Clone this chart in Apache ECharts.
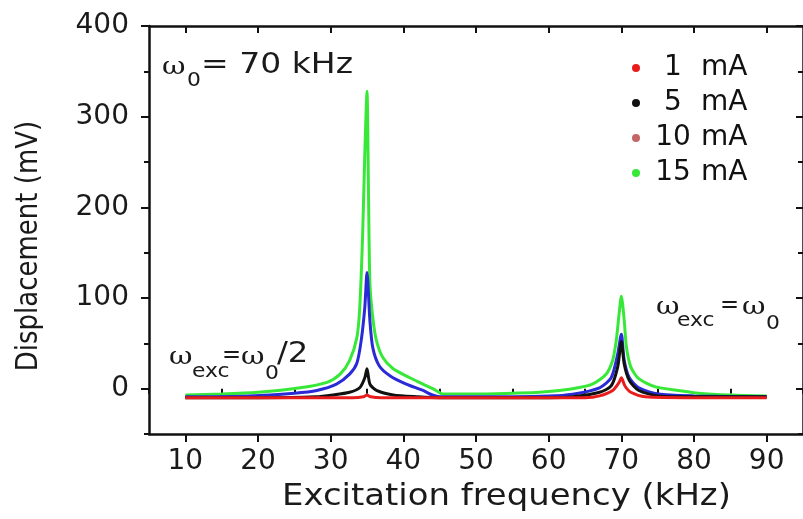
<!DOCTYPE html>
<html>
<head>
<meta charset="utf-8">
<script src="https://cdn.jsdelivr.net/npm/echarts@6/dist/echarts.min.js"></script>
<style>html,body{margin:0;padding:0;background:#fff;}#c{width:803px;height:519px;}</style>
</head>
<body>
<div id="c"></div>
<script>
// ---- data (frequency in kHz, displacement in mV) ----
const seriesNames = ['1 mA', '5 mA', '10 mA', '15 mA'];

const freq1mA = [10, 20, 30, 33, 34.5, 35, 35.5, 37, 40, 45, 50, 60, 65, 67, 68.8, 69.7, 70, 70.5, 71.3, 73.3, 80, 90];
const disp1mA = [-10, -10, -10, -10, -9, -7, -9, -10, -10, -10, -10, -10, -10, -8, -2, 7, 12, 3, -4, -9, -10, -10];

const freq5mA = [10, 20, 28, 30.3, 32.6, 34, 34.7, 35, 35.4, 36.3, 38.6, 42, 45, 50, 60, 63.3, 67, 68.6, 69.5, 70, 70.4, 71.1, 72.4, 75.1, 80, 90];
const disp5mA = [-10, -10, -9, -7, -4, 1, 12, 22, 5, -2, -7, -9, -10, -10, -10, -9, -4, 3, 24, 52, 27, 9, -2, -8, -9, -9];

const freq10mA = [10, 18.9, 25, 28.1, 30.8, 32.6, 33.6, 34.2, 34.7, 35, 35.4, 35.8, 36.7, 38.2, 40.4, 42.7, 44, 45, 50, 60, 63.3, 67, 68.6, 69.5, 70, 70.4, 71.1, 72.4, 75.1, 80, 90];
const disp10mA = [-9, -8, -5, -2, 5, 16, 28, 53, 90, 128, 75, 45, 25, 14, 5, -2, -7, -9, -9, -8, -6, 1, 12, 38, 60, 31, 12, 1, -6, -8, -9];

const freq15mA = [10, 15, 20, 25.8, 29.5, 31.3, 32.6, 33.6, 34, 34.4, 34.7, 35, 35.2, 35.4, 35.8, 36.3, 37.2, 38.6, 40.9, 42.7, 44.5, 45.4, 50, 55, 58.7, 63.3, 66, 67.9, 68.8, 69.3, 69.7, 70, 70.4, 70.7, 71.3, 72.4, 74.7, 77.9, 80.6, 85, 90];
const disp15mA = [-7, -6, -4, 1, 7, 16, 31, 56, 89, 170, 260, 328, 220, 116, 78, 53, 34, 22, 12, 5, -2, -6, -6, -5, -4, 0, 5, 16, 31, 53, 83, 102, 75, 46, 24, 11, 2, -2, -5, -7, -8];

const xMajorTicks = [10, 20, 30, 40, 50, 60, 70, 80, 90];
const xMinorTicks = [5, 15, 25, 35, 45, 55, 65, 75, 85, 95];
const yMajorTicks = [0, 100, 200, 300, 400];
const yMinorTicks = [-50, 50, 150, 250, 350];

// ---- styling ----
const colors = {'1 mA': '#e81c1c', '5 mA': '#111111', '10 mA': '#2a2ad6', '15 mA': '#38e838'};
const legendColors = {'1 mA': '#e81c1c', '5 mA': '#111111', '10 mA': '#c46666', '15 mA': '#38e838'};
const FONT = 'DejaVu Sans';
const AX = {color: '#111', width: 2.5};

function pairs(f, v) { return f.map((x, i) => [x, v[i]]); }
const dataMap = {
  '1 mA': pairs(freq1mA, disp1mA),
  '5 mA': pairs(freq5mA, disp5mA),
  '10 mA': pairs(freq10mA, disp10mA),
  '15 mA': pairs(freq15mA, disp15mA)
};

function tickAxis(extra) {
  return Object.assign({
    type: 'value', gridIndex: 0,
    splitLine: {show: false},
    axisLine: {show: false, lineStyle: AX},
    axisLabel: {show: false},
    axisTick: {show: true, lineStyle: {color: '#111', width: 2}}
  }, extra);
}

const chart = echarts.init(document.getElementById('c'), null, {renderer: 'canvas'});

// draw order: green, blue, black, red (red on top)
const drawOrder = ['15 mA', '10 mA', '5 mA', '1 mA'];

function txt(text, x, y, size, opts) {
  opts = opts || {};
  return {
    type: 'text', x: x, y: y, scaleX: opts.sx || 1.15, scaleY: opts.sy || 1,
    rotation: opts.rot || 0, z: 100,
    style: {
      text: text, fill: opts.fill || '#1a1a1a',
      font: (opts.weight || 'normal') + ' ' + size + 'px ' + (opts.family || FONT),
      align: opts.align || 'left', verticalAlign: 'middle'
    }
  };
}
const SERIF = '"DejaVu Serif"';

const option = {
  backgroundColor: '#fff',
  animation: false,
  grid: {left: 149, right: 0, top: 26, bottom: 85, containLabel: false},
  legend: {
    orient: 'vertical', left: 627, top: 49,
    icon: 'circle', itemWidth: 8, itemHeight: 8, itemGap: 7,
    data: seriesNames.map(n => ({name: n, itemStyle: {color: legendColors[n]}})),
    formatter: function (name) {
      const parts = name.split(' ');
      return '{n|' + parts[0] + '}{u|' + parts[1] + '}';
    },
    textStyle: {
      fontFamily: FONT, fontSize: 28, color: '#111', lineHeight: 28,
      rich: {
        n: {width: 56, align: 'center', fontFamily: FONT, fontSize: 28, color: '#111'},
        u: {fontFamily: FONT, fontSize: 28, color: '#111'}
      }
    }
  },
  xAxis: [
    tickAxis({
      min: 5, max: 95, position: 'bottom',
      axisLine: {show: true, onZero: false, lineStyle: AX},
      axisTick: {show: true, length: 8, customValues: xMajorTicks, lineStyle: {color: '#111', width: 2}},
      axisLabel: {show: true, customValues: xMajorTicks, margin: 14, fontFamily: FONT, fontSize: 28, color: '#1a1a1a'}
    }),
    tickAxis({min: 5, max: 95, position: 'bottom',
      axisTick: {show: true, length: 5, customValues: xMinorTicks, lineStyle: {color: '#111', width: 2}}}),
    tickAxis({min: 5, max: 95, position: 'top',
      axisLine: {show: true, onZero: false, lineStyle: AX},
      axisTick: {show: true, inside: true, length: 7, customValues: xMajorTicks, lineStyle: {color: '#111', width: 2}}}),
    tickAxis({min: 5, max: 95, position: 'top',
      axisTick: {show: true, inside: true, length: 5, customValues: xMinorTicks, lineStyle: {color: '#111', width: 2}}})
  ],
  yAxis: [
    tickAxis({
      min: -50, max: 400, position: 'left',
      axisLine: {show: true, onZero: false, lineStyle: AX},
      axisTick: {show: true, length: 8, customValues: yMajorTicks, lineStyle: {color: '#111', width: 2}},
      axisLabel: {show: true, customValues: yMajorTicks, margin: 20, fontFamily: FONT, fontSize: 28, color: '#1a1a1a'}
    }),
    tickAxis({min: -50, max: 400, position: 'left',
      axisTick: {show: true, length: 5, customValues: yMinorTicks, lineStyle: {color: '#111', width: 2}}}),
    tickAxis({min: -50, max: 400, position: 'right',
      axisLine: {show: true, onZero: false, lineStyle: AX},
      axisTick: {show: true, inside: true, length: 7, customValues: yMajorTicks, lineStyle: {color: '#111', width: 2}}}),
    tickAxis({min: -50, max: 400, position: 'right',
      axisTick: {show: true, inside: true, length: 5, customValues: yMinorTicks, lineStyle: {color: '#111', width: 2}}})
  ],
  series: drawOrder.map((name, i) => ({
    name: name, type: 'line', xAxisIndex: 0, yAxisIndex: 0,
    data: dataMap[name], showSymbol: false, symbol: 'none', smooth: 0.25,
    color: colors[name],
    lineStyle: {color: colors[name], width: 3},
    z: 2 + i
  })),
  graphic: [
    // axis titles
    txt('Excitation frequency (kHz)', 282, 497, 30, {sx: 1.13}),
    txt('Displacement (mV)', 29, 246, 26, {align: 'center', rot: Math.PI / 2, sx: 1, sy: 1.15}),
    // omega_0 = 70 kHz
    txt('ω', 162, 68, 24, {family: SERIF, sx: 1.2}),
    txt('0', 187, 81, 19, {sx: 1.15}),
    txt('= 70 kHz', 201, 66, 28, {sx: 1.18}),
    // omega_exc = omega_0/2
    txt('ω', 169, 358, 24, {family: SERIF, sx: 1.2}),
    txt('exc', 192, 372, 19, {sx: 1.15}),
    txt('=', 222, 356, 24, {sx: 0.95}),
    txt('ω', 241, 358, 24, {family: SERIF, sx: 1.2}),
    txt('0', 265, 374, 19, {sx: 1.15}),
    txt('/2', 277, 355, 28, {sx: 1.15}),
    // omega_exc = omega_0
    txt('ω', 656, 308, 24, {family: SERIF, sx: 1.2}),
    txt('exc', 677, 321, 19, {sx: 1.15}),
    txt('=', 720, 306, 24, {sx: 0.95}),
    txt('ω', 742, 308, 24, {family: SERIF, sx: 1.2}),
    txt('0', 766, 324, 19, {sx: 1.15})
  ]
};
chart.setOption(option);
</script>
</body>
</html>
